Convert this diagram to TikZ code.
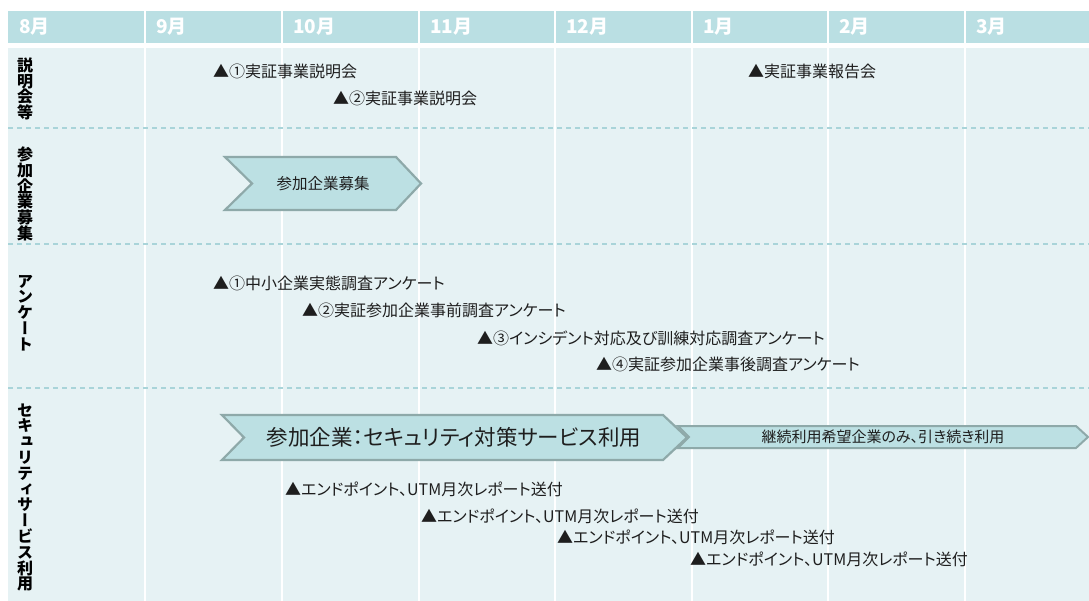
\documentclass[tikz,border=0pt]{standalone}
\usepackage{fontspec}
\newfontfamily\jp{Noto Sans CJK JP}[RawFeature=+palt]
\newfontfamily\jpv{Noto Sans CJK JP}[RawFeature=+vert]
\definecolor{hdr}{HTML}{BADFE3}
\definecolor{bodybg}{HTML}{E6F2F4}
\definecolor{dashc}{HTML}{A9D4D9}
\definecolor{chevfill}{HTML}{BCE0E3}
\definecolor{chevline}{HTML}{8EA9A9}
\definecolor{txt}{HTML}{1E1E1E}
\tikzset{
  month/.style={anchor=west, inner sep=0pt, text=white, font=\jp\bfseries\fontsize{19}{22}\selectfont},
  rowlabel/.style={align=center, inner sep=0pt, text=black, font=\jpv\bfseries\fontsize{16}{15.8}\selectfont},
  event/.style={anchor=west, inner sep=0pt, text=txt, font=\jp\fontsize{16}{19}\selectfont},
  chev/.style={fill=chevfill, draw=chevline, line width=2.2pt, line join=miter},
  chevtext/.style={inner sep=0pt, text=txt},
  sep/.style={draw=dashc, line width=1.3pt, dash pattern=on 5pt off 4pt},
  colline/.style={draw=white, line width=1.6pt}
}
\begin{document}
\begin{tikzpicture}[x=1pt,y=-1pt]
\useasboundingbox (0,0) rectangle (1089,601);
% backgrounds
\fill[hdr] (8,11) rectangle (1089,43);
\fill[bodybg] (8,48) rectangle (1089,601);
% column separators
\foreach \cx in {145,282,419,555,692,828,965}
  \draw[colline] (\cx,11) -- (\cx,601);
% row separators
\foreach \ry in {128,244,388}
  \draw[sep] (8,\ry) -- (1089,\ry);
% month labels
\node[month] (m8) at (19,27) {8月};
\node[month] (m9) at (156,27) {9月};
\node[month] (m10) at (293,27) {10月};
\node[month] (m11) at (430,27) {11月};
\node[month] (m12) at (566,27) {12月};
\node[month] (m1) at (703,27) {1月};
\node[month] (m2) at (839,27) {2月};
\node[month] (m3) at (976,27) {3月};
% row labels
\node[rowlabel] (r1) at (25,89) {説\\明\\会\\等};
\node[rowlabel] (r2) at (25,194) {参\\加\\企\\業\\募\\集};
\node[rowlabel] (r3) at (25,313) {ア\\ン\\ケ\\ー\\ト};
\node[rowlabel] (r4) at (25,497.5) {セ\\キ\\ュ\\リ\\テ\\ィ\\サ\\ー\\ビ\\ス\\利\\用};
% row 1 events
\node[event] (e11) at (213,71) {▲①実証事業説明会};
\node[event] (e12) at (333,98) {▲②実証事業説明会};
\node[event] (e13) at (748,71) {▲実証事業報告会};
% row 2 chevron
\filldraw[chev] (225,157) -- (396,157) -- (421,183.5) -- (396,210) -- (225,210) -- (252,183.5) -- cycle;
\node[chevtext, font=\jp\fontsize{15.5}{18}\selectfont] (boshu) at (323,184) {参加企業募集};
% row 3 events
\node[event] (e31) at (213,283) {▲①中小企業実態調査アンケート};
\node[event] (e32) at (302,310) {▲②実証参加企業事前調査アンケート};
\node[event] (e33) at (477,338) {▲③インシデント対応及び訓練対応調査アンケート};
\node[event] (e34) at (596,364) {▲④実証参加企業事後調査アンケート};
% row 4 chevrons
\filldraw[chev, line width=2pt] (678,426) -- (1076,426) -- (1088,437) -- (1076,448) -- (678,448) -- (689,437) -- cycle;
\node[chevtext, font=\jp\fontsize{15}{17}\selectfont] (keizoku) at (883,437) {継続利用希望企業のみ、引き続き利用};
\filldraw[chev] (222,415) -- (663,415) -- (687,437.5) -- (663,460) -- (222,460) -- (244,437.5) -- cycle;
\node[chevtext, font=\jp\fontsize{21.5}{24}\selectfont] (riyou) at (454,437.5) {参加企業：セキュリティ対策サービス利用};
% row 4 events
\node[event] (e41) at (285,489) {▲エンドポイント、UTM月次レポート送付};
\node[event] (e42) at (421,516) {▲エンドポイント、UTM月次レポート送付};
\node[event] (e43) at (557,537) {▲エンドポイント、UTM月次レポート送付};
\node[event] (e44) at (690,559) {▲エンドポイント、UTM月次レポート送付};
\end{tikzpicture}
\end{document}
